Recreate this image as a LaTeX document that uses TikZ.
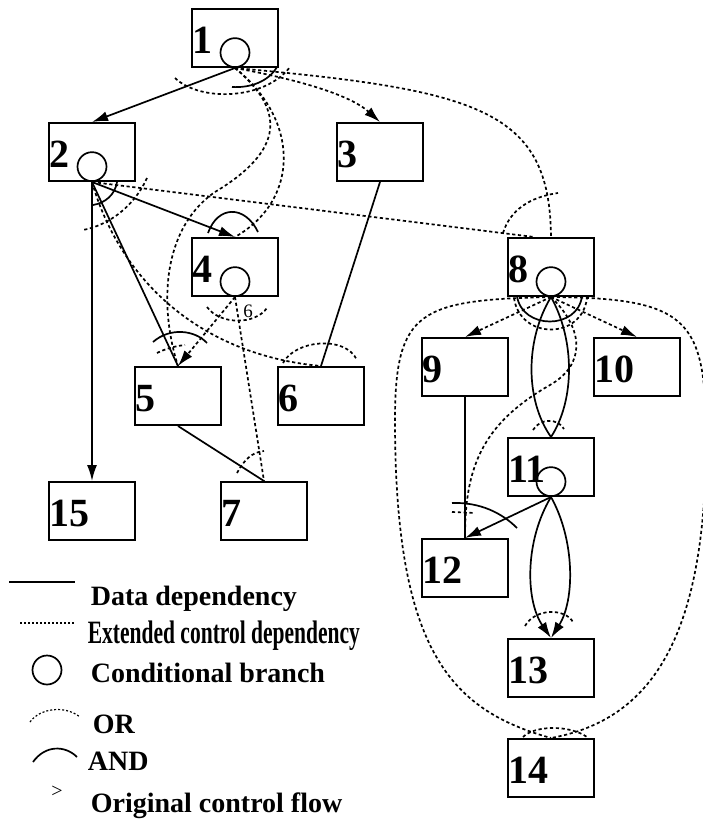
\documentclass[tikz,border=0pt]{standalone}
\usepackage{fontspec}
\setmainfont{Liberation Serif}
\usetikzlibrary{arrows.meta,calc}

\begin{document}
\begin{tikzpicture}[x=0.5pt,y=-0.5pt,line width=0.85pt,
box node/.style={draw,rectangle,line width=1pt,anchor=north west,inner sep=0pt,minimum width=43pt,minimum height=29pt,text width=43pt,align=left,text height=15pt,text depth=0pt,font=\fontsize{20}{20}\selectfont\bfseries},
cond node/.style={draw,circle,anchor=south,inner sep=0pt,minimum size=14.5pt},
ctrl edge/.style={dash pattern=on 1.6pt off 1.3pt},
flow edge/.style={-{Latex[length=8pt,width=5pt]}},
or arc/.style={dash pattern=on 1.6pt off 1.3pt},
legend text/.style={anchor=base west,inner sep=0pt,font=\fontsize{14}{14}\selectfont\bfseries}]
\useasboundingbox (0,0) rectangle (702,825);
\begin{scope}
\node[box node] (b1) at (191,8) {1};
\node[box node] (b2) at (48,122) {2};
\node[box node] (b3) at (336,122) {3};
\node[box node] (b4) at (191,237) {4};
\node[box node] (b5) at (134,366) {5};
\node[box node] (b6) at (277,366) {6};
\node[box node] (b7) at (220,481) {7};
\node[box node] (b8) at (507,237) {8};
\node[box node] (b9) at (421,337) {9};
\node[box node] (b10) at (593,337) {10};
\node[box node] (b11) at (507,437) {11};
\node[box node] (b12) at (421,538) {12};
\node[box node] (b13) at (507,638) {13};
\node[box node] (b14) at (507,738) {14};
\node[box node] (b15) at (48,481) {15};
\node[cond node] (c1) at (b1.south) {};
\node[cond node] (c2) at (b2.south) {};
\node[cond node] (c4) at (b4.south) {};
\node[cond node] (c8) at (b8.south) {};
\node[cond node] (c11) at (b11.south) {};
\coordinate (b8in) at ($(b8.north)+(-17,0)$);
\end{scope}
\begin{scope}
% from 1
\draw[flow edge] (b1.south) -- (b2.north);
\draw[ctrl edge,flow edge] (b1.south) .. controls (300,80) and (350,95) .. (b3.north);
\draw[ctrl edge] (b1.south) .. controls (480,90) and (550,110) .. (b8.north);
\draw[ctrl edge] (b1.south) .. controls (300,120) and (300,200) .. (b4.north);
\draw[ctrl edge] (b1.south) .. controls (285,110) and (285,150) .. (215,192) .. controls (160,230) and (160,310) .. (b5.north);
\draw[or arc] (175,78) .. controls (200,102) and (265,100) .. (290,67);
\draw (277,67) .. controls (268,82) and (250,88) .. (232,87);
% from 2
\draw[flow edge] (b2.south) -- (b15.north);
\draw[flow edge] (b2.south) -- (b4.north);
\draw (b2.south) -- (b5.north);
\draw[ctrl edge] (b2.south) .. controls (120,280) and (200,355) .. (b6.north);
\draw[ctrl edge] (b2.south) -- (b8in);
\draw (117,182) .. controls (115,195) and (105,203) .. (93,205);
\draw[or arc] (147,178) .. controls (135,205) and (110,225) .. (83,230);
\draw[or arc] (503,233) .. controls (510,210) and (530,197) .. (558,193);
% 3 to 7
\draw (b3.south) -- (b6.north);
\draw (208,233) .. controls (218,205) and (245,205) .. (258,232);
\draw[ctrl edge,flow edge] (b4.south) -- (b5.north);
\draw[ctrl edge] (b4.south) -- (b7.north);
\draw[or arc] (207,307) .. controls (220,325) and (255,325) .. (267,308);
\node[font=\fontsize{9.5}{9.5}\selectfont] (n6) at (248,311) {6};
\draw (153,342) .. controls (170,327) and (195,330) .. (207,343);
\draw[or arc] (157,353) .. controls (165,349) and (175,346) .. (185,345);
\draw[or arc] (283,363) .. controls (295,340) and (345,335) .. (357,360);
\draw (b5.south) -- (b7.north);
\draw[or arc] (237,473) .. controls (244,460) and (252,452) .. (264,451);
% from 8
\draw[ctrl edge,flow edge] (b8.south) -- (b9.north);
\draw[ctrl edge,flow edge] (b8.south) -- (b10.north);
\draw (b8.south) .. controls (525,340) and (525,400) .. (b11.north);
\draw (b8.south) .. controls (575,340) and (575,400) .. (b11.north);
\draw[ctrl edge] (b8.south) .. controls (585,330) and (585,365) .. (550,385) .. controls (480,425) and (465,470) .. (b12.north);
\draw[ctrl edge] (b8.south) .. controls (420,300) and (395,310) .. (395,420) .. controls (395,650) and (450,710) .. (b14.north);
\draw[ctrl edge] (b8.south) .. controls (690,298) and (706,320) .. (706,440) .. controls (706,640) and (650,720) .. (b14.north);
\draw (517,296) .. controls (522,330) and (578,330) .. (582,296);
\draw[or arc] (514,298) .. controls (520,340) and (582,340) .. (587,298);
\draw[or arc] (533,430) .. controls (540,418) and (558,418) .. (564,429);
% 9 to 14
\draw (b9.south) -- (b12.north);
\draw[flow edge] (b11.south) -- (b12.north);
\draw[flow edge] (b11.south) .. controls (525,540) and (525,600) .. (b13.north);
\draw[flow edge] (b11.south) .. controls (575,540) and (575,600) .. (b13.north);
\draw (452,503) .. controls (480,502) and (502,513) .. (517,528);
\draw[or arc] (452,512) -- (475,513);
\draw[or arc] (525,626) .. controls (535,608) and (565,608) .. (573,622);
\draw[or arc] (523,737) .. controls (535,725) and (570,725) .. (587,737);
\end{scope}
\begin{scope}
% legend
\draw (9,582) -- (75,582);
\node[legend text] (l1) at (90,605) {Data dependency};
\draw[dash pattern=on 1pt off 1pt,line width=0.6pt] (20,623) -- (75,623);
\node[legend text] (l2) at (87,643) {\scalebox{0.66}[1]{\fontsize{16.3}{16.3}\selectfont Extended control dependency}};
\node[cond node,anchor=center] (l3c) at (47,670) {};
\node[legend text] (l3) at (90,682) {Conditional branch};
\draw[dash pattern=on 1pt off 1pt,line width=0.6pt] (30,722) .. controls (40,708) and (65,705) .. (80,717);
\node[legend text] (l4) at (92,733) {OR};
\draw (33,762) .. controls (45,745) and (65,745) .. (77,757);
\node[legend text] (l5) at (87,770) {AND};
\node[font=\fontsize{10}{10}\selectfont] (l6c) at (57,792) {>};
\node[legend text] (l6) at (90,812) {Original control flow};
\end{scope}
\end{tikzpicture}
\end{document}
